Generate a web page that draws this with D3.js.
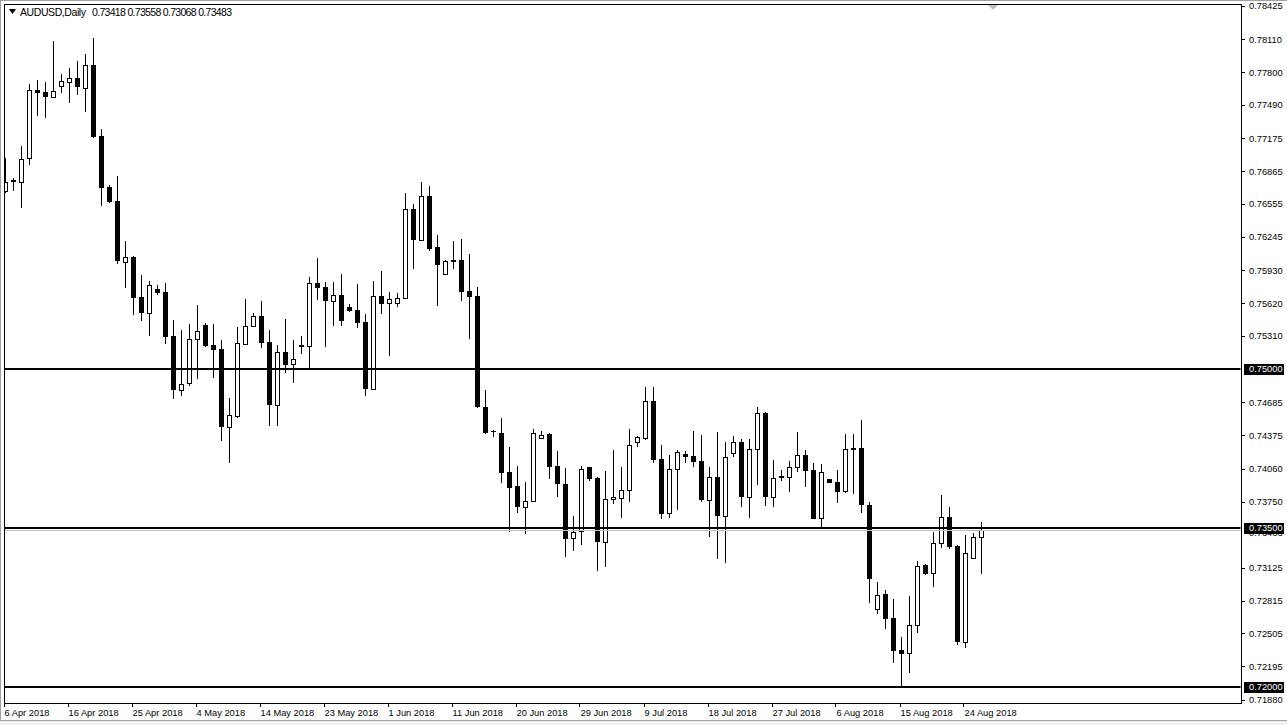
<!DOCTYPE html>
<html><head><meta charset="utf-8">
<script src="https://cdn.jsdelivr.net/npm/d3@7"></script>
<style>
body{margin:0;background:#fff}
svg{display:block}
text{font-family:"Liberation Sans",Arial,sans-serif;font-size:9.3px;fill:#000}
text.hdr{font-size:10.5px}
</style>
</head><body>
<svg id="c" width="1287" height="725"></svg>
<script>
const title = "AUDUSD,Daily";
const lastOHLC = "0.73418 0.73558 0.73068 0.73483";

const openP = [0.76676,0.76783,0.76767,0.76988,0.77629,0.77613,0.77569,0.77667,0.77710,0.77742,
0.77654,0.77868,0.77198,0.76717,0.76585,0.76012,0.76057,0.75679,0.75531,0.75755,
0.75726,0.75311,0.74805,0.74865,0.75280,0.75415,0.75226,0.75189,0.74456,0.74559,
0.75239,0.75409,0.75497,0.75252,0.74663,0.75158,0.75044,0.75224,0.75220,0.75808,
0.75771,0.75644,0.75695,0.75582,0.75554,0.75441,0.74816,0.75686,0.75620,0.75620,
0.75667,0.76507,0.76220,0.76629,0.76148,0.75893,0.76028,0.76028,0.75736,0.75686,
0.74642,0.74415,0.74393,0.74025,0.73893,0.73701,0.73752,0.74352,0.74384,0.74082,
0.73912,0.73403,0.73469,0.74073,0.73969,0.73371,0.73771,0.73786,0.73856,0.74308,
0.74352,0.74695,0.74151,0.73639,0.74059,0.74198,0.74176,0.74132,0.73767,0.73978,
0.73616,0.74205,0.74308,0.73790,0.74248,0.74582,0.73795,0.73988,0.73978,0.74073,
0.74186,0.74044,0.73592,0.73959,0.73934,0.73846,0.74252,0.74252,0.73717,0.72733,
0.72877,0.72651,0.72349,0.72318,0.72582,0.73148,0.73073,0.73356,0.73604,0.73330,
0.72428,0.73214,0.73418];
const highP = [0.76993,0.76799,0.77104,0.77689,0.77726,0.77705,0.78094,0.77783,0.77837,0.77906,
0.77972,0.78123,0.77264,0.76736,0.76824,0.76208,0.76066,0.75887,0.75830,0.75792,
0.75811,0.75462,0.75368,0.75425,0.75604,0.75434,0.75425,0.75274,0.74726,0.75396,
0.75658,0.75528,0.75642,0.75368,0.75224,0.75472,0.75274,0.75311,0.75868,0.76044,
0.75818,0.75818,0.75896,0.75610,0.75802,0.75519,0.75830,0.75925,0.75724,0.75717,
0.76658,0.76557,0.76761,0.76726,0.76261,0.76025,0.76208,0.76226,0.76082,0.75771,
0.74802,0.74425,0.74535,0.74261,0.74085,0.73931,0.74431,0.74415,0.74392,0.74226,
0.74063,0.73613,0.74085,0.74080,0.73978,0.74038,0.74236,0.74073,0.74434,0.74368,
0.74830,0.74830,0.74280,0.74186,0.74236,0.74226,0.74415,0.74377,0.74073,0.74406,
0.74311,0.74365,0.74342,0.74337,0.74639,0.74590,0.74139,0.74047,0.74132,0.74406,
0.74233,0.74110,0.74101,0.73967,0.74047,0.74387,0.74387,0.74519,0.73742,0.72991,
0.72915,0.72830,0.72472,0.72858,0.73189,0.73156,0.73462,0.73811,0.73698,0.73340,
0.73434,0.73456,0.73558];
const lowP = [0.76658,0.76682,0.76516,0.76925,0.77390,0.77371,0.77557,0.77607,0.77512,0.77585,
0.77427,0.77176,0.76541,0.76566,0.75991,0.75767,0.75509,0.75456,0.75314,0.75698,
0.75239,0.74720,0.74748,0.74842,0.74906,0.75212,0.74918,0.74324,0.74116,0.74541,
0.75224,0.75399,0.75201,0.74465,0.74465,0.74965,0.74871,0.75142,0.75007,0.75651,
0.75210,0.75406,0.75406,0.75541,0.75390,0.74748,0.74811,0.75516,0.75125,0.75588,
0.75660,0.75941,0.76210,0.76116,0.75597,0.75892,0.75941,0.75644,0.75286,0.74635,
0.74384,0.74361,0.73927,0.73465,0.73644,0.73443,0.73745,0.74342,0.73959,0.73790,
0.73229,0.73286,0.73340,0.73946,0.73097,0.73135,0.73729,0.73597,0.73748,0.74267,
0.74333,0.74116,0.73588,0.73597,0.73673,0.74116,0.74078,0.73748,0.73418,0.73210,
0.73167,0.74167,0.73701,0.73592,0.73906,0.73710,0.73695,0.73943,0.73842,0.74031,
0.73890,0.73582,0.73497,0.73922,0.73733,0.73833,0.73821,0.73644,0.72795,0.72692,
0.72550,0.72229,0.72003,0.72135,0.72512,0.73059,0.72946,0.73314,0.73305,0.72399,
0.72371,0.73208,0.73068];
const closeP = [0.76761,0.76767,0.76978,0.77629,0.77607,0.77569,0.77620,0.77714,0.77742,0.77663,
0.77868,0.77192,0.76710,0.76576,0.76019,0.76054,0.75673,0.75531,0.75790,0.75720,
0.75305,0.74802,0.74856,0.75283,0.75356,0.75220,0.75179,0.74456,0.74563,0.75242,
0.75406,0.75497,0.75248,0.74663,0.75158,0.75041,0.75092,0.75210,0.75808,0.75767,
0.75644,0.75695,0.75456,0.75547,0.75437,0.74814,0.75686,0.75610,0.75658,0.75667,
0.76507,0.76220,0.76629,0.76132,0.75984,0.76019,0.76012,0.75729,0.75682,0.74642,
0.74399,0.74403,0.74022,0.73880,0.73701,0.73752,0.74393,0.74375,0.74078,0.73912,
0.73399,0.73465,0.74054,0.73965,0.73371,0.73771,0.73790,0.73858,0.74280,0.74356,
0.74695,0.74144,0.73635,0.74054,0.74217,0.74173,0.74125,0.73767,0.73978,0.73616,
0.74173,0.74308,0.73790,0.74248,0.74582,0.73795,0.73975,0.73975,0.74073,0.74186,
0.74041,0.73588,0.74028,0.73927,0.73842,0.74242,0.74239,0.73717,0.73016,0.72865,
0.72644,0.72342,0.72314,0.72582,0.73142,0.73069,0.73358,0.73604,0.73324,0.72425,
0.73261,0.73412,0.73483];

const dateLabels = ["6 Apr 2018","16 Apr 2018","25 Apr 2018","4 May 2018","14 May 2018","23 May 2018",
"1 Jun 2018","11 Jun 2018","20 Jun 2018","29 Jun 2018","9 Jul 2018","18 Jul 2018","27 Jul 2018",
"6 Aug 2018","15 Aug 2018","24 Aug 2018"];
const dateBarIndex = [0,8,16,24,32,40,48,56,64,72,80,88,96,104,112,120];

const priceTicks = [0.78425,0.78110,0.77800,0.77490,0.77175,0.76865,0.76555,0.76245,0.75930,0.75620,
0.75310,0.74685,0.74375,0.74060,0.73750,0.73125,0.72815,0.72505,0.72195,0.71880];
const levels = [0.75000,0.73500,0.72000];
const bid = 0.73483;

const W = 1287, H = 725;
const plot = {l:4, t:4, r:1241, b:703};
const svg = d3.select("#c");

const n = openP.length;
const x = d3.scaleLinear().domain([0, n-1]).range([5.5, 981.5]);
const y = d3.scaleLinear().domain([0.72, 0.78425]).range([687, 6]);

svg.append("rect").attr("x",0).attr("y",0).attr("width",W).attr("height",H).attr("fill","#fff");
// window frame (gray edges)
svg.append("rect").attr("x",0).attr("y",721).attr("width",W).attr("height",4).attr("fill","#f0f0f0");
svg.append("line").attr("x1",0).attr("x2",W).attr("y1",720.5).attr("y2",720.5).attr("stroke","#a0a0a0");
svg.append("line").attr("x1",0).attr("x2",W).attr("y1",0.5).attr("y2",0.5).attr("stroke","#a0a0a0");
svg.append("line").attr("x1",0.5).attr("x2",0.5).attr("y1",0).attr("y2",721).attr("stroke","#a0a0a0");

svg.append("defs").append("clipPath").attr("id","pc")
  .append("rect").attr("x",plot.l+0.5).attr("y",plot.t+0.5)
  .attr("width",plot.r-plot.l-1).attr("height",plot.b-plot.t-1);

const g = svg.append("g").attr("clip-path","url(#pc)");
const data = d3.range(n).map(i=>({i,o:openP[i],h:highP[i],l:lowP[i],c:closeP[i]}));

// wicks
g.selectAll("line.w").data(data).join("line")
  .attr("x1",d=>x(d.i)).attr("x2",d=>x(d.i))
  .attr("y1",d=>Math.round(y(d.h))).attr("y2",d=>Math.round(y(d.l)))
  .attr("stroke","#000").attr("stroke-width",1).attr("shape-rendering","crispEdges");

// bodies
g.selectAll("rect.b").data(data).join("rect")
  .attr("x",d=> d.c>=d.o ? x(d.i)-2 : x(d.i)-2.5)
  .attr("width",d=> d.c>=d.o ? 4 : 5)
  .attr("y",d=>{const t=Math.round(y(Math.max(d.o,d.c))); return d.c>=d.o? t+0.5 : t;})
  .attr("height",d=>{const t=Math.round(y(Math.max(d.o,d.c))), b=Math.round(y(Math.min(d.o,d.c)));
     return Math.max(b-t,1);})
  .attr("fill",d=> d.c>=d.o ? "#fff" : "#000")
  .attr("stroke",d=> d.c>=d.o ? "#000" : "none")
  .attr("stroke-width",1);

// bid line
g.append("line").attr("x1",plot.l).attr("x2",plot.r).attr("y1",Math.round(y(bid))+0.5).attr("y2",Math.round(y(bid))+0.5)
  .attr("stroke","#c0c0c0").attr("stroke-width",1);

// level lines
g.selectAll("line.lv").data(levels).join("line")
  .attr("x1",plot.l).attr("x2",plot.r).attr("y1",d=>Math.round(y(d))).attr("y2",d=>Math.round(y(d)))
  .attr("stroke","#000").attr("stroke-width",2);

// frame
svg.append("rect").attr("x",plot.l+0.5).attr("y",plot.t+0.5).attr("width",plot.r-plot.l).attr("height",plot.b-plot.t)
  .attr("fill","none").attr("stroke","#000").attr("stroke-width",1);

// shift marker
svg.append("path").attr("d","M988,5 L998,5 L993,10 Z").attr("fill","#c0c0c0");

// right price axis
const ax = svg.append("g");
ax.selectAll("line.t").data(priceTicks).join("line")
  .attr("x1",plot.r).attr("x2",plot.r+4).attr("y1",d=>Math.round(y(d))+0.5).attr("y2",d=>Math.round(y(d))+0.5)
  .attr("stroke","#000");
ax.selectAll("text.t").data(priceTicks).join("text")
  .attr("x",plot.r+8).attr("y",d=>y(d)).attr("dy","0.35em").text(d=>d.toFixed(5));

// bid label, mostly hidden under the 0.73500 box (as in the original terminal)
ax.append("text").attr("x",plot.r+8).attr("y",y(bid)+3).attr("dy","0.35em").text(bid.toFixed(5));

ax.selectAll("rect.lv").data(levels).join("rect")
  .attr("x",plot.r+3).attr("y",d=>Math.round(y(d))-5).attr("width",40).attr("height",11).attr("fill","#000");
ax.selectAll("text.lv").data(levels).join("text")
  .attr("x",plot.r+8).attr("y",d=>y(d)).attr("dy","0.35em").style("fill","#fff").text(d=>d.toFixed(5));

// bottom date axis
const bx = svg.append("g");
bx.selectAll("line").data(dateBarIndex).join("line")
  .attr("x1",d=>Math.round(x(d))-1.5).attr("x2",d=>Math.round(x(d))-1.5).attr("y1",plot.b).attr("y2",plot.b+4)
  .attr("stroke","#000");
bx.selectAll("text").data(dateBarIndex).join("text")
  .attr("x",d=>Math.max(x(d)-1, 2)).attr("y",713).attr("dy","0.35em").text((d,k)=>dateLabels[k]);

// header
svg.append("path").attr("d","M9,9 L16,9 L12.5,14 Z").attr("fill","#000");
svg.append("text").attr("class","hdr").attr("x",20).attr("y",12).attr("dy","0.35em").attr("textLength",66).text(title);
svg.append("text").attr("class","hdr").attr("x",92).attr("y",12).attr("dy","0.35em").attr("textLength",140).text(lastOHLC);
</script>
</body></html>
